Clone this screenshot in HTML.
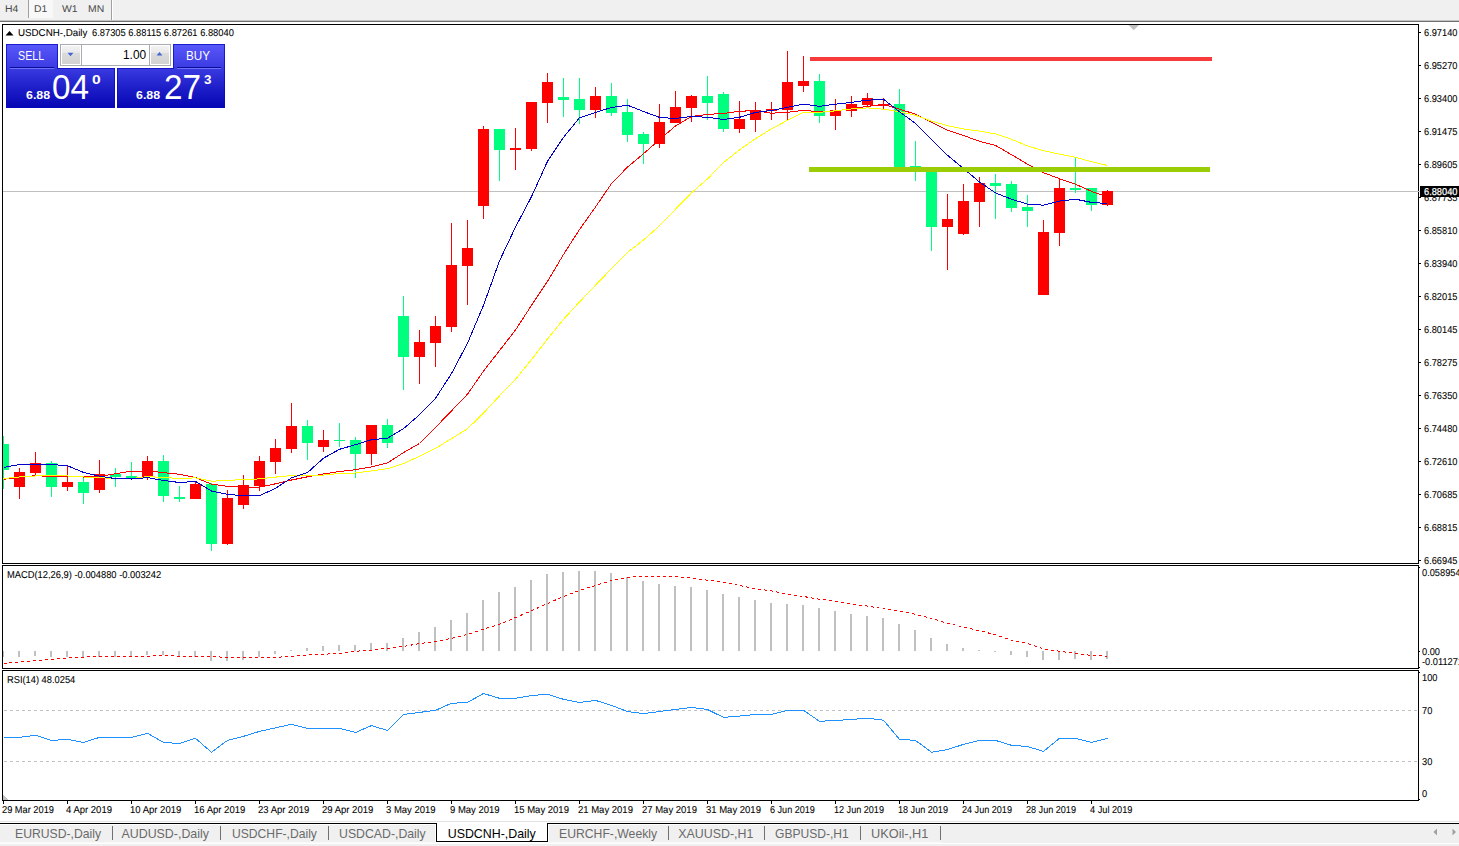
<!DOCTYPE html><html><head><meta charset="utf-8"><title>chart</title><style>
html,body{margin:0;padding:0;background:#fff;overflow:hidden}
body{width:1459px;height:846px;position:relative;font-family:"Liberation Sans",sans-serif;color:#000}
.t{position:absolute;white-space:nowrap;font-size:10px;line-height:10px;height:10px;transform-origin:0 50%;transform:rotate(0.03deg) scaleX(0.95);-webkit-text-stroke:0.08px #000}
.ax{left:1424px;transform:rotate(0.03deg) scaleX(0.925)}
.tab{position:absolute;white-space:nowrap;font-size:12.4px;line-height:14px;height:14px;top:827px;color:#6a6a6a;transform-origin:0 50%}
.sep{position:absolute;top:826px;width:1px;height:14px;background:#707070}
.tb{position:absolute;white-space:nowrap;font-size:9.8px;line-height:10px;height:10px;top:4px;color:#4a4a4a;transform-origin:0 50%;transform:rotate(0.03deg) scaleX(1.06)}

.pt{position:absolute;white-space:nowrap;line-height:14px;height:14px;transform-origin:0 50%}
</style></head><body>
<div style="position:absolute;left:0;top:0;width:1459px;height:20px;background:#f0f0f0"></div>
<div style="position:absolute;left:0;top:20px;width:1459px;height:1px;background:#c4c4c4"></div>
<div style="position:absolute;left:0;top:21px;width:1459px;height:1px;background:#6e6e6e"></div>
<div style="position:absolute;left:28px;top:0;width:1px;height:18px;background:#a0a0a0"></div>
<div style="position:absolute;left:29px;top:0;width:24px;height:18px;background:#f8f8f8"></div>
<div style="position:absolute;left:111px;top:0;width:1px;height:20px;background:#a0a0a0"></div>
<div style="position:absolute;left:112px;top:0;width:1px;height:20px;background:#fff"></div>
<div class="tb" id="tb0" style="left:5px">H4</div>
<div class="tb" id="tb1" style="left:34px">D1</div>
<div class="tb" id="tb2" style="left:62px">W1</div>
<div class="tb" id="tb3" style="left:88px">MN</div>
<svg width="1459" height="846" viewBox="0 0 1459 846" style="position:absolute;left:0;top:0" shape-rendering="crispEdges">
<defs><clipPath id="cm"><rect x="3" y="25" width="1415" height="538"/></clipPath></defs>
<rect x="3" y="191" width="1415" height="1" fill="#c0c0c0"/>
<g clip-path="url(#cm)">
<rect x="3" y="436" width="1" height="53" fill="#00FF7F"/>
<rect x="-2" y="444" width="11" height="26" fill="#00FF7F"/>
<rect x="19" y="468" width="1" height="31" fill="#FF0000"/>
<rect x="14" y="472" width="11" height="15" fill="#FF0000"/>
<rect x="35" y="452" width="1" height="24" fill="#FF0000"/>
<rect x="30" y="463" width="11" height="10" fill="#FF0000"/>
<rect x="51" y="461" width="1" height="36" fill="#00FF7F"/>
<rect x="46" y="463" width="11" height="24" fill="#00FF7F"/>
<rect x="67" y="465" width="1" height="26" fill="#FF0000"/>
<rect x="62" y="482" width="11" height="5" fill="#FF0000"/>
<rect x="83" y="478" width="1" height="26" fill="#00FF7F"/>
<rect x="78" y="482" width="11" height="11" fill="#00FF7F"/>
<rect x="99" y="460" width="1" height="33" fill="#FF0000"/>
<rect x="94" y="474" width="11" height="16" fill="#FF0000"/>
<rect x="115" y="468" width="1" height="19" fill="#00FF7F"/>
<rect x="110" y="474" width="11" height="3" fill="#00FF7F"/>
<rect x="131" y="462" width="1" height="17" fill="#00FF7F"/>
<rect x="126" y="476" width="11" height="2" fill="#00FF7F"/>
<rect x="147" y="456" width="1" height="24" fill="#FF0000"/>
<rect x="142" y="461" width="11" height="16" fill="#FF0000"/>
<rect x="163" y="455" width="1" height="47" fill="#00FF7F"/>
<rect x="158" y="461" width="11" height="35" fill="#00FF7F"/>
<rect x="179" y="486" width="1" height="16" fill="#00FF7F"/>
<rect x="174" y="497" width="11" height="2" fill="#00FF7F"/>
<rect x="195" y="482" width="1" height="17" fill="#FF0000"/>
<rect x="190" y="484" width="11" height="15" fill="#FF0000"/>
<rect x="211" y="483" width="1" height="68" fill="#00FF7F"/>
<rect x="206" y="484" width="11" height="60" fill="#00FF7F"/>
<rect x="227" y="490" width="1" height="55" fill="#FF0000"/>
<rect x="222" y="498" width="11" height="46" fill="#FF0000"/>
<rect x="243" y="475" width="1" height="34" fill="#FF0000"/>
<rect x="238" y="485" width="11" height="20" fill="#FF0000"/>
<rect x="259" y="456" width="1" height="35" fill="#FF0000"/>
<rect x="254" y="461" width="11" height="25" fill="#FF0000"/>
<rect x="275" y="439" width="1" height="35" fill="#FF0000"/>
<rect x="270" y="448" width="11" height="14" fill="#FF0000"/>
<rect x="291" y="403" width="1" height="50" fill="#FF0000"/>
<rect x="286" y="426" width="11" height="23" fill="#FF0000"/>
<rect x="307" y="420" width="1" height="40" fill="#00FF7F"/>
<rect x="302" y="426" width="11" height="17" fill="#00FF7F"/>
<rect x="323" y="430" width="1" height="22" fill="#FF0000"/>
<rect x="318" y="440" width="11" height="7" fill="#FF0000"/>
<rect x="339" y="423" width="1" height="24" fill="#00FF7F"/>
<rect x="334" y="440" width="11" height="1" fill="#00FF7F"/>
<rect x="355" y="437" width="1" height="41" fill="#00FF7F"/>
<rect x="350" y="440" width="11" height="14" fill="#00FF7F"/>
<rect x="371" y="425" width="1" height="40" fill="#FF0000"/>
<rect x="366" y="425" width="11" height="29" fill="#FF0000"/>
<rect x="387" y="419" width="1" height="29" fill="#00FF7F"/>
<rect x="382" y="425" width="11" height="18" fill="#00FF7F"/>
<rect x="403" y="296" width="1" height="94" fill="#00FF7F"/>
<rect x="398" y="316" width="11" height="41" fill="#00FF7F"/>
<rect x="419" y="330" width="1" height="54" fill="#FF0000"/>
<rect x="414" y="342" width="11" height="15" fill="#FF0000"/>
<rect x="435" y="316" width="1" height="51" fill="#FF0000"/>
<rect x="430" y="326" width="11" height="17" fill="#FF0000"/>
<rect x="451" y="223" width="1" height="109" fill="#FF0000"/>
<rect x="446" y="265" width="11" height="62" fill="#FF0000"/>
<rect x="467" y="220" width="1" height="85" fill="#FF0000"/>
<rect x="462" y="248" width="11" height="18" fill="#FF0000"/>
<rect x="483" y="126" width="1" height="93" fill="#FF0000"/>
<rect x="478" y="129" width="11" height="77" fill="#FF0000"/>
<rect x="499" y="129" width="1" height="52" fill="#00FF7F"/>
<rect x="494" y="129" width="11" height="21" fill="#00FF7F"/>
<rect x="515" y="128" width="1" height="42" fill="#FF0000"/>
<rect x="510" y="148" width="11" height="2" fill="#FF0000"/>
<rect x="531" y="102" width="1" height="49" fill="#FF0000"/>
<rect x="526" y="102" width="11" height="47" fill="#FF0000"/>
<rect x="547" y="73" width="1" height="50" fill="#FF0000"/>
<rect x="542" y="82" width="11" height="21" fill="#FF0000"/>
<rect x="563" y="78" width="1" height="39" fill="#00FF7F"/>
<rect x="558" y="97" width="11" height="3" fill="#00FF7F"/>
<rect x="579" y="78" width="1" height="46" fill="#00FF7F"/>
<rect x="574" y="99" width="11" height="11" fill="#00FF7F"/>
<rect x="595" y="87" width="1" height="31" fill="#FF0000"/>
<rect x="590" y="96" width="11" height="14" fill="#FF0000"/>
<rect x="611" y="83" width="1" height="33" fill="#00FF7F"/>
<rect x="606" y="96" width="11" height="17" fill="#00FF7F"/>
<rect x="627" y="99" width="1" height="43" fill="#00FF7F"/>
<rect x="622" y="112" width="11" height="23" fill="#00FF7F"/>
<rect x="643" y="132" width="1" height="32" fill="#00FF7F"/>
<rect x="638" y="134" width="11" height="10" fill="#00FF7F"/>
<rect x="659" y="104" width="1" height="44" fill="#FF0000"/>
<rect x="654" y="122" width="11" height="22" fill="#FF0000"/>
<rect x="675" y="91" width="1" height="32" fill="#FF0000"/>
<rect x="670" y="107" width="11" height="16" fill="#FF0000"/>
<rect x="691" y="95" width="1" height="27" fill="#FF0000"/>
<rect x="686" y="96" width="11" height="12" fill="#FF0000"/>
<rect x="707" y="76" width="1" height="44" fill="#00FF7F"/>
<rect x="702" y="96" width="11" height="7" fill="#00FF7F"/>
<rect x="723" y="92" width="1" height="40" fill="#00FF7F"/>
<rect x="718" y="94" width="11" height="35" fill="#00FF7F"/>
<rect x="739" y="101" width="1" height="32" fill="#FF0000"/>
<rect x="734" y="119" width="11" height="10" fill="#FF0000"/>
<rect x="755" y="102" width="1" height="30" fill="#FF0000"/>
<rect x="750" y="110" width="11" height="10" fill="#FF0000"/>
<rect x="771" y="102" width="1" height="18" fill="#FF0000"/>
<rect x="766" y="109" width="11" height="2" fill="#FF0000"/>
<rect x="787" y="51" width="1" height="69" fill="#FF0000"/>
<rect x="782" y="82" width="11" height="28" fill="#FF0000"/>
<rect x="803" y="56" width="1" height="36" fill="#FF0000"/>
<rect x="798" y="81" width="11" height="5" fill="#FF0000"/>
<rect x="819" y="74" width="1" height="49" fill="#00FF7F"/>
<rect x="814" y="81" width="11" height="35" fill="#00FF7F"/>
<rect x="835" y="99" width="1" height="31" fill="#FF0000"/>
<rect x="830" y="110" width="11" height="6" fill="#FF0000"/>
<rect x="851" y="96" width="1" height="21" fill="#FF0000"/>
<rect x="846" y="104" width="11" height="7" fill="#FF0000"/>
<rect x="867" y="93" width="1" height="13" fill="#FF0000"/>
<rect x="862" y="98" width="11" height="7" fill="#FF0000"/>
<rect x="883" y="98" width="1" height="11" fill="#FF0000"/>
<rect x="878" y="104" width="11" height="2" fill="#FF0000"/>
<rect x="899" y="89" width="1" height="79" fill="#00FF7F"/>
<rect x="894" y="104" width="11" height="64" fill="#00FF7F"/>
<rect x="915" y="141" width="1" height="40" fill="#00FF7F"/>
<rect x="910" y="166" width="11" height="1" fill="#00FF7F"/>
<rect x="931" y="167" width="1" height="84" fill="#00FF7F"/>
<rect x="926" y="167" width="11" height="60" fill="#00FF7F"/>
<rect x="947" y="194" width="1" height="76" fill="#FF0000"/>
<rect x="942" y="219" width="11" height="8" fill="#FF0000"/>
<rect x="963" y="184" width="1" height="51" fill="#FF0000"/>
<rect x="958" y="201" width="11" height="33" fill="#FF0000"/>
<rect x="979" y="177" width="1" height="50" fill="#FF0000"/>
<rect x="974" y="183" width="11" height="19" fill="#FF0000"/>
<rect x="995" y="174" width="1" height="45" fill="#00FF7F"/>
<rect x="990" y="183" width="11" height="3" fill="#00FF7F"/>
<rect x="1011" y="181" width="1" height="31" fill="#00FF7F"/>
<rect x="1006" y="184" width="11" height="24" fill="#00FF7F"/>
<rect x="1027" y="195" width="1" height="32" fill="#00FF7F"/>
<rect x="1022" y="207" width="11" height="4" fill="#00FF7F"/>
<rect x="1043" y="220" width="1" height="75" fill="#FF0000"/>
<rect x="1038" y="232" width="11" height="63" fill="#FF0000"/>
<rect x="1059" y="179" width="1" height="67" fill="#FF0000"/>
<rect x="1054" y="188" width="11" height="45" fill="#FF0000"/>
<rect x="1075" y="158" width="1" height="35" fill="#00FF7F"/>
<rect x="1070" y="188" width="11" height="2" fill="#00FF7F"/>
<rect x="1091" y="188" width="1" height="23" fill="#00FF7F"/>
<rect x="1086" y="188" width="11" height="17" fill="#00FF7F"/>
<rect x="1107" y="190" width="1" height="16" fill="#FF0000"/>
<rect x="1102" y="191" width="11" height="14" fill="#FF0000"/>
</g>
<g clip-path="url(#cm)">
<polyline points="3.5,479.3 19.5,477.3 35.5,475.7 51.5,476.5 67.5,476.5 83.5,477.0 99.5,476.5 115.5,473.7 131.5,471.2 147.5,471.0 163.5,472.6 179.5,474.3 195.5,477.6 211.5,484.2 227.5,486.3 243.5,487.4 259.5,487.1 275.5,483.8 291.5,480.0 307.5,476.8 323.5,474.0 339.5,471.5 355.5,469.7 371.5,466.9 387.5,463.0 403.5,452.6 419.5,443.5 435.5,427.4 451.5,410.9 467.5,394.2 483.5,371.1 499.5,350.6 515.5,330.0 531.5,305.3 547.5,281.4 563.5,254.5 579.5,229.5 595.5,207.0 611.5,183.6 627.5,167.1 643.5,153.7 659.5,139.7 675.5,126.0 691.5,116.5 707.5,114.4 723.5,113.5 739.5,111.2 755.5,110.7 771.5,113.2 787.5,112.4 803.5,110.3 819.5,111.8 835.5,111.0 851.5,108.4 867.5,106.4 883.5,104.3 899.5,109.2 915.5,114.2 931.5,122.4 947.5,130.1 963.5,135.5 979.5,141.3 995.5,145.4 1011.5,154.7 1027.5,164.2 1043.5,172.7 1059.5,178.7 1075.5,184.2 1091.5,191.4 1107.5,197.0" fill="none" stroke="#FF0000" stroke-width="1" />
<polyline points="3.5,478.6 19.5,477.0 35.5,476.0 51.5,475.7 67.5,476.0 83.5,477.0 99.5,477.6 115.5,478.6 131.5,478.6 147.5,476.5 163.5,477.6 179.5,478.4 195.5,477.9 211.5,481.2 227.5,480.5 243.5,479.5 259.5,478.9 275.5,477.1 291.5,475.6 307.5,475.1 323.5,475.1 339.5,473.5 355.5,473.0 371.5,471.0 387.5,468.7 403.5,463.6 419.5,456.3 435.5,448.4 451.5,438.6 467.5,428.7 483.5,413.1 499.5,395.8 515.5,379.3 531.5,359.6 547.5,339.0 563.5,319.3 579.5,302.0 595.5,285.2 611.5,268.6 627.5,252.3 643.5,240.1 659.5,225.7 675.5,209.2 691.5,192.8 707.5,178.9 723.5,162.5 739.5,149.9 755.5,138.7 771.5,128.8 787.5,120.3 803.5,112.4 819.5,112.4 835.5,110.8 851.5,108.9 867.5,107.9 883.5,109.2 899.5,111.7 915.5,115.3 931.5,121.1 947.5,125.7 963.5,129.0 979.5,131.1 995.5,133.9 1011.5,139.3 1027.5,145.9 1043.5,150.7 1059.5,154.1 1075.5,157.4 1091.5,161.6 1107.5,165.5" fill="none" stroke="#FFFF00" stroke-width="1" />
<polyline points="3.5,467.4 19.5,464.5 35.5,464.5 51.5,464.5 67.5,465.8 83.5,472.4 99.5,476.2 115.5,478.6 131.5,479.0 147.5,477.6 163.5,480.5 179.5,482.5 195.5,481.4 211.5,491.0 227.5,494.4 243.5,495.7 259.5,495.7 275.5,488.3 291.5,477.9 307.5,472.6 323.5,458.2 339.5,449.3 355.5,444.7 371.5,439.7 387.5,438.3 403.5,428.7 419.5,414.7 435.5,398.3 451.5,373.6 467.5,343.2 483.5,305.3 499.5,260.9 515.5,227.1 531.5,196.7 547.5,161.3 563.5,137.4 579.5,117.7 595.5,112.4 611.5,107.5 627.5,105.2 643.5,111.5 659.5,117.4 675.5,118.5 691.5,116.5 707.5,117.3 723.5,119.5 739.5,117.3 755.5,112.4 771.5,110.4 787.5,107.4 803.5,104.1 819.5,106.3 835.5,104.2 851.5,102.3 867.5,100.2 883.5,99.3 899.5,111.7 915.5,123.5 931.5,139.7 947.5,155.3 963.5,168.5 979.5,182.0 995.5,192.9 1011.5,199.2 1027.5,204.1 1043.5,205.2 1059.5,201.1 1075.5,199.2 1091.5,202.4 1107.5,203.6" fill="none" stroke="#0000CD" stroke-width="1" />
</g>
<rect x="810" y="57" width="402" height="4" fill="#F73B3B"/>
<rect x="809" y="167" width="401" height="5" fill="#9ACD05"/>
<polygon points="1128.5,25 1139,25 1133.7,30.3" fill="#c0c0c0" shape-rendering="auto"/>
<rect x="3" y="651" width="1" height="6" fill="#c0c0c0"/>
<rect x="18" y="651" width="2" height="6" fill="#c0c0c0"/>
<rect x="34" y="651" width="2" height="5" fill="#c0c0c0"/>
<rect x="50" y="651" width="2" height="6" fill="#c0c0c0"/>
<rect x="66" y="651" width="2" height="6" fill="#c0c0c0"/>
<rect x="82" y="651" width="2" height="7" fill="#c0c0c0"/>
<rect x="98" y="651" width="2" height="6" fill="#c0c0c0"/>
<rect x="114" y="651" width="2" height="6" fill="#c0c0c0"/>
<rect x="130" y="651" width="2" height="6" fill="#c0c0c0"/>
<rect x="146" y="651" width="2" height="4" fill="#c0c0c0"/>
<rect x="162" y="651" width="2" height="4" fill="#c0c0c0"/>
<rect x="178" y="651" width="2" height="6" fill="#c0c0c0"/>
<rect x="194" y="651" width="2" height="6" fill="#c0c0c0"/>
<rect x="210" y="651" width="2" height="10" fill="#c0c0c0"/>
<rect x="226" y="651" width="2" height="10" fill="#c0c0c0"/>
<rect x="242" y="651" width="2" height="9" fill="#c0c0c0"/>
<rect x="258" y="651" width="2" height="6" fill="#c0c0c0"/>
<rect x="274" y="651" width="2" height="3" fill="#c0c0c0"/>
<rect x="290" y="650" width="2" height="1" fill="#c0c0c0"/>
<rect x="306" y="648" width="2" height="3" fill="#c0c0c0"/>
<rect x="322" y="646" width="2" height="5" fill="#c0c0c0"/>
<rect x="338" y="645" width="2" height="6" fill="#c0c0c0"/>
<rect x="354" y="645" width="2" height="6" fill="#c0c0c0"/>
<rect x="370" y="643" width="2" height="8" fill="#c0c0c0"/>
<rect x="386" y="643" width="2" height="8" fill="#c0c0c0"/>
<rect x="402" y="638" width="2" height="13" fill="#c0c0c0"/>
<rect x="418" y="632" width="2" height="19" fill="#c0c0c0"/>
<rect x="434" y="627" width="2" height="24" fill="#c0c0c0"/>
<rect x="450" y="620" width="2" height="31" fill="#c0c0c0"/>
<rect x="466" y="613" width="2" height="38" fill="#c0c0c0"/>
<rect x="482" y="600" width="2" height="51" fill="#c0c0c0"/>
<rect x="498" y="592" width="2" height="59" fill="#c0c0c0"/>
<rect x="514" y="587" width="2" height="64" fill="#c0c0c0"/>
<rect x="530" y="580" width="2" height="71" fill="#c0c0c0"/>
<rect x="546" y="574" width="2" height="77" fill="#c0c0c0"/>
<rect x="562" y="572" width="2" height="79" fill="#c0c0c0"/>
<rect x="578" y="571" width="2" height="80" fill="#c0c0c0"/>
<rect x="594" y="571" width="2" height="80" fill="#c0c0c0"/>
<rect x="610" y="573" width="2" height="78" fill="#c0c0c0"/>
<rect x="626" y="577" width="2" height="74" fill="#c0c0c0"/>
<rect x="642" y="581" width="2" height="70" fill="#c0c0c0"/>
<rect x="658" y="584" width="2" height="67" fill="#c0c0c0"/>
<rect x="674" y="586" width="2" height="65" fill="#c0c0c0"/>
<rect x="690" y="587" width="2" height="64" fill="#c0c0c0"/>
<rect x="706" y="590" width="2" height="61" fill="#c0c0c0"/>
<rect x="722" y="594" width="2" height="57" fill="#c0c0c0"/>
<rect x="738" y="597" width="2" height="54" fill="#c0c0c0"/>
<rect x="754" y="600" width="2" height="51" fill="#c0c0c0"/>
<rect x="770" y="603" width="2" height="48" fill="#c0c0c0"/>
<rect x="786" y="604" width="2" height="47" fill="#c0c0c0"/>
<rect x="802" y="605" width="2" height="46" fill="#c0c0c0"/>
<rect x="818" y="608" width="2" height="43" fill="#c0c0c0"/>
<rect x="834" y="611" width="2" height="40" fill="#c0c0c0"/>
<rect x="850" y="614" width="2" height="37" fill="#c0c0c0"/>
<rect x="866" y="616" width="2" height="35" fill="#c0c0c0"/>
<rect x="882" y="618" width="2" height="33" fill="#c0c0c0"/>
<rect x="898" y="624" width="2" height="27" fill="#c0c0c0"/>
<rect x="914" y="630" width="2" height="21" fill="#c0c0c0"/>
<rect x="930" y="638" width="2" height="13" fill="#c0c0c0"/>
<rect x="946" y="644" width="2" height="7" fill="#c0c0c0"/>
<rect x="962" y="648" width="2" height="3" fill="#c0c0c0"/>
<rect x="978" y="650" width="2" height="1" fill="#c0c0c0"/>
<rect x="994" y="651" width="2" height="1" fill="#c0c0c0"/>
<rect x="1010" y="651" width="2" height="4" fill="#c0c0c0"/>
<rect x="1026" y="651" width="2" height="6" fill="#c0c0c0"/>
<rect x="1042" y="651" width="2" height="9" fill="#c0c0c0"/>
<rect x="1058" y="651" width="2" height="9" fill="#c0c0c0"/>
<rect x="1074" y="651" width="2" height="8" fill="#c0c0c0"/>
<rect x="1090" y="651" width="2" height="9" fill="#c0c0c0"/>
<rect x="1106" y="651" width="2" height="8" fill="#c0c0c0"/>
<polyline points="3.5,663.3 19.5,662.2 35.5,660.5 51.5,659.5 67.5,657.9 83.5,657.2 99.5,656.4 115.5,656.4 131.5,656.4 147.5,656.4 163.5,655.1 179.5,656.4 195.5,656.4 211.5,656.4 227.5,657.5 243.5,657.4 259.5,657.4 275.5,657.4 291.5,656.2 307.5,655.1 323.5,654.3 339.5,653.3 355.5,651.3 371.5,650.1 387.5,648.3 403.5,646.4 419.5,643.6 435.5,641.4 451.5,638.4 467.5,634.4 483.5,629.1 499.5,624.2 515.5,617.6 531.5,610.7 547.5,603.6 563.5,596.5 579.5,590.4 595.5,585.5 611.5,580.6 627.5,577.3 643.5,576.5 659.5,576.5 675.5,576.5 691.5,578.1 707.5,580.2 723.5,582.2 739.5,585.5 755.5,588.8 771.5,590.9 787.5,594.2 803.5,596.5 819.5,599.2 835.5,601.1 851.5,604.4 867.5,606.1 883.5,608.8 899.5,611.3 915.5,614.3 931.5,618.4 947.5,623.3 963.5,627.1 979.5,630.7 995.5,634.8 1011.5,640.3 1027.5,643.6 1043.5,648.8 1059.5,651.3 1075.5,653.4 1091.5,655.4 1107.5,656.2" fill="none" stroke="#FF0000" stroke-width="1" stroke-dasharray="3 3"/>
<line x1="3" y1="710.5" x2="1418" y2="710.5" stroke="#c0c0c0" stroke-dasharray="3 3" stroke-dashoffset="-1"/>
<line x1="3" y1="761.5" x2="1418" y2="761.5" stroke="#c0c0c0" stroke-dasharray="3 3" stroke-dashoffset="-1"/>
<polyline points="3.5,737.4 19.5,737.4 35.5,735.3 51.5,740.4 67.5,739.4 83.5,742.4 99.5,737.4 115.5,737.4 131.5,737.4 147.5,733.3 163.5,742.4 179.5,743.5 195.5,738.3 211.5,752.3 227.5,740.4 243.5,736.3 259.5,731.4 275.5,727.9 291.5,724.3 307.5,728.4 323.5,728.4 339.5,728.4 355.5,732.5 371.5,725.6 387.5,730.5 403.5,714.4 419.5,712.4 435.5,710.3 451.5,703.3 467.5,702.4 483.5,693.5 499.5,698.3 515.5,698.3 531.5,695.5 547.5,694.3 563.5,699.3 579.5,702.4 595.5,700.4 611.5,705.4 627.5,711.5 643.5,713.6 659.5,711.5 675.5,709.5 691.5,707.5 707.5,709.5 723.5,717.4 739.5,716.1 755.5,714.4 771.5,714.4 787.5,710.3 803.5,710.3 819.5,721.3 835.5,720.5 851.5,719.4 867.5,718.2 883.5,720.2 899.5,739.3 915.5,740.4 931.5,752.3 947.5,749.5 963.5,744.4 979.5,740.4 995.5,740.4 1011.5,745.3 1027.5,746.5 1043.5,751.4 1059.5,738.3 1075.5,738.3 1091.5,742.4 1107.5,738.3" fill="none" stroke="#1E90FF" stroke-width="1" />
<polygon points="3,795 8,800 3,800" fill="#c0c0c0"/>
<rect x="2" y="24" width="1417" height="1" fill="#000"/>
<rect x="2" y="563" width="1417" height="1" fill="#000"/>
<rect x="2" y="24" width="1" height="540" fill="#000"/>
<rect x="2" y="565" width="1417" height="1" fill="#000"/>
<rect x="2" y="668" width="1417" height="1" fill="#000"/>
<rect x="2" y="565" width="1" height="104" fill="#000"/>
<rect x="2" y="670" width="1417" height="1" fill="#000"/>
<rect x="2" y="800" width="1417" height="1" fill="#000"/>
<rect x="2" y="670" width="1" height="131" fill="#000"/>
<rect x="1418" y="24" width="1" height="540" fill="#000"/>
<rect x="1418" y="565" width="1" height="104" fill="#000"/>
<rect x="1418" y="670" width="1" height="131" fill="#000"/>
<rect x="1419" y="32" width="2" height="1" fill="#000"/>
<rect x="1419" y="65" width="2" height="1" fill="#000"/>
<rect x="1419" y="98" width="2" height="1" fill="#000"/>
<rect x="1419" y="131" width="2" height="1" fill="#000"/>
<rect x="1419" y="164" width="2" height="1" fill="#000"/>
<rect x="1419" y="197" width="2" height="1" fill="#000"/>
<rect x="1419" y="230" width="2" height="1" fill="#000"/>
<rect x="1419" y="263" width="2" height="1" fill="#000"/>
<rect x="1419" y="296" width="2" height="1" fill="#000"/>
<rect x="1419" y="329" width="2" height="1" fill="#000"/>
<rect x="1419" y="362" width="2" height="1" fill="#000"/>
<rect x="1419" y="395" width="2" height="1" fill="#000"/>
<rect x="1419" y="428" width="2" height="1" fill="#000"/>
<rect x="1419" y="461" width="2" height="1" fill="#000"/>
<rect x="1419" y="494" width="2" height="1" fill="#000"/>
<rect x="1419" y="527" width="2" height="1" fill="#000"/>
<rect x="1419" y="560" width="2" height="1" fill="#000"/>
<rect x="1419" y="567" width="1" height="1" fill="#000"/>
<rect x="1419" y="651" width="1" height="1" fill="#000"/>
<rect x="1419" y="667" width="1" height="1" fill="#000"/>
<rect x="1419" y="672" width="1" height="1" fill="#000"/>
<rect x="1419" y="799" width="1" height="1" fill="#000"/>
<rect x="3" y="801" width="1" height="3" fill="#000"/>
<rect x="67" y="801" width="1" height="3" fill="#000"/>
<rect x="131" y="801" width="1" height="3" fill="#000"/>
<rect x="195" y="801" width="1" height="3" fill="#000"/>
<rect x="259" y="801" width="1" height="3" fill="#000"/>
<rect x="323" y="801" width="1" height="3" fill="#000"/>
<rect x="387" y="801" width="1" height="3" fill="#000"/>
<rect x="451" y="801" width="1" height="3" fill="#000"/>
<rect x="515" y="801" width="1" height="3" fill="#000"/>
<rect x="579" y="801" width="1" height="3" fill="#000"/>
<rect x="643" y="801" width="1" height="3" fill="#000"/>
<rect x="707" y="801" width="1" height="3" fill="#000"/>
<rect x="771" y="801" width="1" height="3" fill="#000"/>
<rect x="835" y="801" width="1" height="3" fill="#000"/>
<rect x="899" y="801" width="1" height="3" fill="#000"/>
<rect x="963" y="801" width="1" height="3" fill="#000"/>
<rect x="1027" y="801" width="1" height="3" fill="#000"/>
<rect x="1091" y="801" width="1" height="3" fill="#000"/>
<rect x="1418" y="191" width="2" height="1" fill="#c0c0c0"/>
<rect x="1420" y="186" width="39" height="11" fill="#000"/>
</svg>
<div class="t ax" style="top:28px">6.97140</div>
<div class="t ax" style="top:61px">6.95270</div>
<div class="t ax" style="top:94px">6.93400</div>
<div class="t ax" style="top:127px">6.91475</div>
<div class="t ax" style="top:160px">6.89605</div>
<div class="t ax" style="top:193px">6.87735</div>
<div class="t ax" style="top:226px">6.85810</div>
<div class="t ax" style="top:259px">6.83940</div>
<div class="t ax" style="top:292px">6.82015</div>
<div class="t ax" style="top:325px">6.80145</div>
<div class="t ax" style="top:358px">6.78275</div>
<div class="t ax" style="top:391px">6.76350</div>
<div class="t ax" style="top:424px">6.74480</div>
<div class="t ax" style="top:457px">6.72610</div>
<div class="t ax" style="top:490px">6.70685</div>
<div class="t ax" style="top:523px">6.68815</div>
<div class="t ax" style="top:556px">6.66945</div>
<div class="t ax" style="top:187px;color:#fff;-webkit-text-stroke:0.25px #fff">6.88040</div>
<div class="t ax" style="left:1422px;top:568px">0.058954</div>
<div class="t ax" style="left:1422px;top:647px">0.00</div>
<div class="t ax" style="left:1422px;top:657px">-0.011271</div>
<div class="t ax" style="left:1422px;top:673px">100</div>
<div class="t ax" style="left:1422px;top:706px">70</div>
<div class="t ax" style="left:1422px;top:757px">30</div>
<div class="t ax" style="left:1422px;top:789px">0</div>
<div class="t" id="title" style="left:18px;top:28px;transform:rotate(0.03deg) scaleX(0.975)">USDCNH-,Daily</div>
<div class="t" id="title2" style="left:92.3px;top:28px;transform:rotate(0.03deg) scaleX(0.932)">6.87305 6.88115 6.87261 6.88040</div>
<svg width="10" height="6" style="position:absolute;left:5px;top:30px"><polygon points="0.5,5.5 4.5,1 8.5,5.5" fill="#000"/></svg>
<div class="t" id="macdl" style="left:7px;top:570px;transform:rotate(0.03deg) scaleX(0.934)">MACD(12,26,9) -0.004880 -0.003242</div>
<div class="t" id="rsil" style="left:7px;top:675px;transform:rotate(0.03deg) scaleX(0.93)">RSI(14) 48.0254</div>
<div class="t dt" style="left:2px;top:805px;transform:rotate(0.03deg) scaleX(0.925)">29 Mar 2019</div>
<div class="t dt" style="left:66px;top:805px">4 Apr 2019</div>
<div class="t dt" style="left:130px;top:805px">10 Apr 2019</div>
<div class="t dt" style="left:194px;top:805px">16 Apr 2019</div>
<div class="t dt" style="left:258px;top:805px">23 Apr 2019</div>
<div class="t dt" style="left:322px;top:805px">29 Apr 2019</div>
<div class="t dt" style="left:386px;top:805px">3 May 2019</div>
<div class="t dt" style="left:450px;top:805px">9 May 2019</div>
<div class="t dt" style="left:514px;top:805px">15 May 2019</div>
<div class="t dt" style="left:578px;top:805px">21 May 2019</div>
<div class="t dt" style="left:642px;top:805px">27 May 2019</div>
<div class="t dt" style="left:706px;top:805px">31 May 2019</div>
<div class="t dt" style="left:770px;top:805px;transform:rotate(0.03deg) scaleX(0.907)">6 Jun 2019</div>
<div class="t dt" style="left:834px;top:805px;transform:rotate(0.03deg) scaleX(0.907)">12 Jun 2019</div>
<div class="t dt" style="left:898px;top:805px;transform:rotate(0.03deg) scaleX(0.907)">18 Jun 2019</div>
<div class="t dt" style="left:962px;top:805px;transform:rotate(0.03deg) scaleX(0.907)">24 Jun 2019</div>
<div class="t dt" style="left:1026px;top:805px;transform:rotate(0.03deg) scaleX(0.907)">28 Jun 2019</div>
<div class="t dt" style="left:1090px;top:805px;transform:rotate(0.03deg) scaleX(0.92)">4 Jul 2019</div>
<div style="position:absolute;left:0;top:821px;width:1459px;height:1px;background:#e3e3e3"></div>
<div style="position:absolute;left:0;top:823px;width:1459px;height:1px;background:#000"></div>
<div style="position:absolute;left:0;top:824px;width:1459px;height:19px;background:#f0f0f0"></div>
<div style="position:absolute;left:0;top:843px;width:1459px;height:1px;background:#fdfdfd"></div>
<div style="position:absolute;left:0;top:824px;width:941px;height:1px;background:#fff"></div>
<div style="position:absolute;left:0;top:842px;width:941px;height:1px;background:#f9f9f9"></div>
<div style="position:absolute;left:435px;top:824px;width:114px;height:19px;background:#fff"></div>
<div style="position:absolute;left:0;top:844px;width:1459px;height:2px;background:#f0f0f0"></div>
<div style="position:absolute;left:436px;top:822px;width:112px;height:1px;background:#fff"></div><div style="position:absolute;left:436px;top:823px;width:110px;height:18px;background:#fff;border:1px solid #000;border-top:none"></div>
<div class="tab" style="left:14.8px;transform:scaleX(0.984)">EURUSD-,Daily</div>
<div class="tab" style="left:121.5px;transform:scaleX(1.0)">AUDUSD-,Daily</div>
<div class="tab" style="left:231.7px;transform:scaleX(0.979)">USDCHF-,Daily</div>
<div class="tab" style="left:338.9px;transform:scaleX(0.992)">USDCAD-,Daily</div>
<div class="tab" style="left:447.7px;color:#000;transform:scaleX(1.0)">USDCNH-,Daily</div>
<div class="tab" style="left:558.7px;transform:scaleX(0.985)">EURCHF-,Weekly</div>
<div class="tab" style="left:678.3px;transform:scaleX(1.0)">XAUUSD-,H1</div>
<div class="tab" style="left:774.7px;transform:scaleX(0.974)">GBPUSD-,H1</div>
<div class="tab" style="left:870.6px;transform:scaleX(1.03)">UKOil-,H1</div>
<div class="sep" style="left:112px"></div>
<div class="sep" style="left:220px"></div>
<div class="sep" style="left:328px"></div>
<div class="sep" style="left:668px"></div>
<div class="sep" style="left:764px"></div>
<div class="sep" style="left:860px"></div>
<div class="sep" style="left:940px"></div>
<svg width="30" height="10" style="position:absolute;left:1430px;top:827px"><polygon points="3.5,5 7,1.5 7,8.5" fill="#a0a0a0"/><polygon points="26,5 22.5,1.5 22.5,8.5" fill="#a0a0a0"/></svg>
<div id="oct" style="position:absolute;left:0;top:0">
<svg width="230" height="110" style="position:absolute;left:0;top:0" shape-rendering="crispEdges">
<defs>
<linearGradient id="bg1" gradientUnits="userSpaceOnUse" x1="0" y1="44" x2="0" y2="108"><stop offset="0" stop-color="#5858fb"/><stop offset="0.36" stop-color="#3c3ce3"/><stop offset="0.7" stop-color="#1d1dc8"/><stop offset="1" stop-color="#0505b4"/></linearGradient>
<linearGradient id="gb" x1="0" y1="0" x2="0" y2="1"><stop offset="0" stop-color="#f3f3f3"/><stop offset="0.36" stop-color="#e9e9e9"/><stop offset="0.37" stop-color="#dcdcdc"/><stop offset="1" stop-color="#d2d2d2"/></linearGradient>
</defs>
<path d="M6 44H58V68H115V108H6Z" fill="url(#bg1)"/>
<path d="M173 44H225V108H117V68H173Z" fill="url(#bg1)"/>
<path d="M6.5 44.5H57.5V68.5H114.5V107.5H6.5Z" fill="none" stroke="#0808c0" stroke-opacity="0.75"/>
<path d="M173.5 44.5H224.5V107.5H117.5V68.5H173.5Z" fill="none" stroke="#0808c0" stroke-opacity="0.75"/>
<rect x="10" y="67" width="44" height="1" fill="#0c0c9c"/>
<rect x="10" y="68" width="44" height="1" fill="#7070f8"/>
<rect x="177" y="67" width="44" height="1" fill="#0c0c9c"/>
<rect x="177" y="68" width="44" height="1" fill="#7070f8"/>
<rect x="60.5" y="44.5" width="110" height="21" fill="#fff" stroke="#a9abb3"/>
<rect x="62" y="46" width="18" height="18" fill="url(#gb)"/>
<rect x="81" y="45" width="1" height="20" fill="#a9abb3"/>
<rect x="149" y="45" width="1" height="20" fill="#a9abb3"/>
<rect x="151" y="46" width="18" height="18" fill="url(#gb)"/>
<polygon points="67.6,52.8 73.4,52.8 70.5,56.2" fill="#4464d4" shape-rendering="auto"/>
<polygon points="156.6,55.4 162.4,55.4 159.5,52" fill="#4464d4" shape-rendering="auto"/>
</svg>
<div class="pt" id="sell" style="left:18.3px;top:49px;font-size:12.3px;color:#fff;transform:scaleX(0.87)">SELL</div>
<div class="pt" id="buy" style="left:186.3px;top:49px;font-size:12.3px;color:#fff;transform:scaleX(0.95)">BUY</div>
<div class="pt" id="vol" style="left:122.5px;top:48px;font-size:12.4px;color:#000;transform:scaleX(0.96)">1.00</div>
<div class="pt" id="s1" style="left:26px;top:87.5px;font-size:11px;font-weight:bold;color:#fff;transform:scaleX(1.125)">6.88</div>
<div class="pt" id="s2" style="left:51.9px;top:68px;font-size:34.5px;color:#fff;line-height:38px;height:38px;transform:scaleX(0.965)">04</div>
<div class="pt" id="s3" style="left:91.9px;top:72.5px;font-size:12px;font-weight:bold;color:#fff;transform:scaleX(1.3)">0</div>
<div class="pt" id="b1" style="left:136px;top:87.5px;font-size:11px;font-weight:bold;color:#fff;transform:scaleX(1.125)">6.88</div>
<div class="pt" id="b2" style="left:164px;top:68px;font-size:34.5px;color:#fff;line-height:38px;height:38px;transform:scaleX(0.965)">27</div>
<div class="pt" id="b3" style="left:204px;top:72.5px;font-size:12px;font-weight:bold;color:#fff;transform:scaleX(1.12)">3</div>
</div>

</body></html>
